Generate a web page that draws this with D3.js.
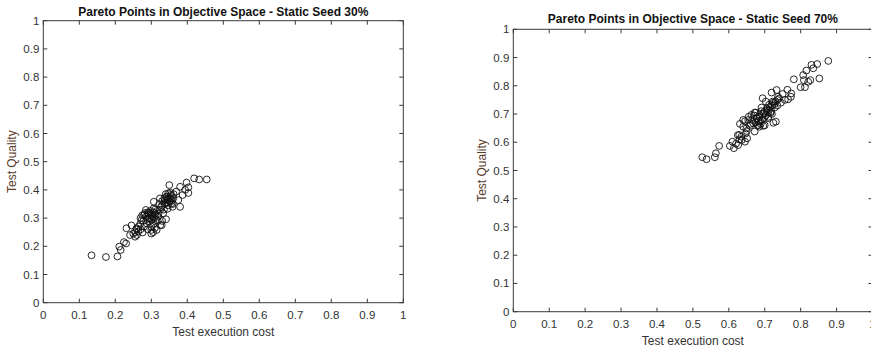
<!DOCTYPE html>
<html>
<head>
<meta charset="utf-8">
<script src="https://cdn.jsdelivr.net/npm/d3@7"></script>
<style>
  html, body { margin: 0; padding: 0; background: #fff; }
  svg { display: block; }
  text { font-family: 'Liberation Sans', Arial, sans-serif; }
</style>
</head>
<body>
<div id="chart"></div>
<script>
// tick values shared by both panels
const tickValues = [0, 0.1, 0.2, 0.3, 0.4, 0.5, 0.6, 0.7, 0.8, 0.9, 1]
const tickLabels = ['0', '0.1', '0.2', '0.3', '0.4', '0.5', '0.6', '0.7', '0.8', '0.9', '1']

const titles = [
    'Pareto Points in Objective Space - Static Seed 30%',
    'Pareto Points in Objective Space - Static Seed 70%',
]
const xLabel = 'Test execution cost'
const yLabel = 'Test Quality'

// [test execution cost, test quality]
const seed30Points = [
    [0.134, 0.168], [0.174, 0.162], [0.206, 0.164], [0.211, 0.199], [0.215, 0.187],
    [0.224, 0.215], [0.230, 0.210], [0.231, 0.264], [0.241, 0.240], [0.245, 0.274],
    [0.250, 0.245], [0.255, 0.234], [0.259, 0.264], [0.264, 0.252], [0.269, 0.279],
    [0.276, 0.249], [0.273, 0.293], [0.280, 0.311], [0.285, 0.329], [0.287, 0.281],
    [0.292, 0.317], [0.296, 0.299], [0.300, 0.258], [0.306, 0.334], [0.307, 0.358],
    [0.310, 0.317], [0.313, 0.293], [0.315, 0.258], [0.319, 0.305], [0.324, 0.370],
    [0.327, 0.340], [0.329, 0.275], [0.333, 0.317], [0.338, 0.364], [0.341, 0.296],
    [0.343, 0.376], [0.345, 0.333], [0.347, 0.388], [0.350, 0.417], [0.352, 0.358],
    [0.354, 0.382], [0.356, 0.352], [0.359, 0.340], [0.361, 0.370], [0.369, 0.394],
    [0.375, 0.364], [0.380, 0.340], [0.380, 0.411], [0.387, 0.382], [0.394, 0.400],
    [0.398, 0.426], [0.403, 0.389], [0.403, 0.409], [0.419, 0.441], [0.433, 0.437],
    [0.454, 0.437],
    [0.285, 0.305], [0.290, 0.320], [0.293, 0.300], [0.297, 0.325], [0.300, 0.310],
    [0.302, 0.295], [0.288, 0.296], [0.298, 0.315], [0.305, 0.320], [0.308, 0.300],
    [0.282, 0.318], [0.295, 0.288], [0.310, 0.330], [0.303, 0.305], [0.291, 0.312],
    [0.312, 0.310], [0.315, 0.325], [0.278, 0.290], [0.300, 0.270], [0.307, 0.280],
    [0.320, 0.315], [0.318, 0.290], [0.325, 0.330], [0.322, 0.350], [0.330, 0.345],
    [0.340, 0.355], [0.345, 0.365], [0.348, 0.372], [0.350, 0.360], [0.352, 0.370],
    [0.343, 0.375], [0.355, 0.365], [0.338, 0.350], [0.347, 0.345], [0.357, 0.378],
    [0.340, 0.385], [0.336, 0.370], [0.353, 0.390], [0.345, 0.355], [0.360, 0.350],
    [0.335, 0.330], [0.330, 0.360], [0.362, 0.385],
    [0.260, 0.260], [0.265, 0.270], [0.255, 0.250], [0.270, 0.260], [0.260, 0.240],
    [0.280, 0.270], [0.290, 0.260], [0.305, 0.250], [0.310, 0.265], [0.300, 0.245],
    [0.325, 0.275], [0.330, 0.290], [0.270, 0.300], [0.275, 0.310],
]

const seed70Points = [
    [0.526, 0.547], [0.538, 0.540], [0.561, 0.547], [0.564, 0.561], [0.573, 0.587],
    [0.603, 0.587], [0.610, 0.602], [0.614, 0.579], [0.626, 0.590], [0.629, 0.626],
    [0.631, 0.665], [0.636, 0.608], [0.640, 0.679], [0.645, 0.602], [0.647, 0.631],
    [0.649, 0.649], [0.651, 0.614], [0.654, 0.679], [0.659, 0.658], [0.663, 0.697],
    [0.668, 0.667], [0.672, 0.638], [0.672, 0.705], [0.677, 0.685], [0.682, 0.661],
    [0.685, 0.697], [0.688, 0.673], [0.691, 0.723], [0.694, 0.756], [0.696, 0.658],
    [0.698, 0.703], [0.703, 0.744], [0.705, 0.714], [0.710, 0.685], [0.712, 0.733],
    [0.716, 0.703], [0.719, 0.776], [0.722, 0.744], [0.724, 0.669], [0.728, 0.723],
    [0.731, 0.673], [0.733, 0.785], [0.735, 0.750], [0.737, 0.761], [0.750, 0.771],
    [0.756, 0.750], [0.763, 0.786], [0.765, 0.752], [0.774, 0.773], [0.773, 0.761],
    [0.781, 0.823], [0.800, 0.795], [0.807, 0.838], [0.809, 0.820], [0.812, 0.795],
    [0.816, 0.854], [0.821, 0.814], [0.827, 0.820], [0.830, 0.874], [0.835, 0.862],
    [0.846, 0.877], [0.852, 0.826], [0.877, 0.888],
    [0.665, 0.680], [0.670, 0.695], [0.675, 0.670], [0.678, 0.685], [0.680, 0.660],
    [0.683, 0.675], [0.686, 0.690], [0.689, 0.665], [0.692, 0.680], [0.695, 0.700],
    [0.698, 0.685], [0.700, 0.710], [0.703, 0.695], [0.706, 0.720], [0.709, 0.705],
    [0.712, 0.715], [0.715, 0.725], [0.718, 0.710], [0.721, 0.730], [0.724, 0.740],
    [0.727, 0.735], [0.730, 0.745], [0.685, 0.655], [0.690, 0.710], [0.675, 0.705],
    [0.660, 0.665], [0.655, 0.690], [0.700, 0.660], [0.710, 0.690], [0.720, 0.700],
    [0.735, 0.730], [0.740, 0.755], [0.745, 0.740], [0.640, 0.655], [0.645, 0.675],
    [0.635, 0.620], [0.650, 0.640], [0.620, 0.595], [0.630, 0.610], [0.625, 0.625],
]

const width = 871
const height = 351
const axisColor = '#3a3a3a'

const svg = d3.select('#chart').append('svg').attr('width', width).attr('height', height)

function drawPanel(opts) {
    const x = d3.scaleLinear().domain([0, 1]).range([opts.left, opts.right])
    const y = d3.scaleLinear().domain([0, 1]).range([opts.bottom, opts.top])
    const g = svg.append('g')
    const tickLen = 4

    // frame
    g.append('rect')
        .attr('x', x(0))
        .attr('y', y(1))
        .attr('width', x(1) - x(0))
        .attr('height', y(0) - y(1))
        .attr('fill', 'none')
        .attr('stroke', axisColor)
        .attr('stroke-width', 1)

    // ticks on all four sides, pointing inward
    tickValues.forEach(function (v) {
        g.append('line').attr('x1', x(v)).attr('x2', x(v)).attr('y1', y(0)).attr('y2', y(0) - tickLen).attr('stroke', axisColor)
        g.append('line').attr('x1', x(v)).attr('x2', x(v)).attr('y1', y(1)).attr('y2', y(1) + tickLen).attr('stroke', axisColor)
        g.append('line').attr('y1', y(v)).attr('y2', y(v)).attr('x1', x(0)).attr('x2', x(0) + tickLen).attr('stroke', axisColor)
        g.append('line').attr('y1', y(v)).attr('y2', y(v)).attr('x1', x(1)).attr('x2', x(1) - tickLen).attr('stroke', axisColor)
    })

    // tick labels
    g.selectAll('.xt')
        .data(tickValues)
        .enter()
        .append('text')
        .attr('x', (d) => x(d))
        .attr('y', y(0) + opts.xTickGap)
        .attr('text-anchor', 'middle')
        .attr('font-size', '11.5px')
        .attr('fill', '#333')
        .text((d, i) => tickLabels[i])
    g.selectAll('.yt')
        .data(tickValues)
        .enter()
        .append('text')
        .attr('x', x(0) - 4)
        .attr('y', (d) => y(d) + 4)
        .attr('text-anchor', 'end')
        .attr('font-size', '11.5px')
        .attr('fill', '#333')
        .text((d, i) => tickLabels[i])

    // axis labels
    g.append('text')
        .attr('x', (x(0) + x(1)) / 2)
        .attr('y', y(0) + opts.xLabelGap)
        .attr('text-anchor', 'middle')
        .attr('font-size', '12px')
        .attr('fill', '#333')
        .text(xLabel)
    g.append('text')
        .attr('transform', 'translate(' + opts.yLabelX + ',' + (y(0) + y(1)) / 2 + ')rotate(-90)')
        .attr('text-anchor', 'middle')
        .attr('font-size', '12px')
        .attr('fill', '#5a3c2a')
        .text(yLabel)

    // title
    g.append('text')
        .attr('x', (x(0) + x(1)) / 2)
        .attr('y', opts.titleY)
        .attr('text-anchor', 'middle')
        .attr('font-size', '12px')
        .attr('font-weight', 'bold')
        .attr('fill', '#111')
        .text(opts.title)

    // points
    g.selectAll('circle')
        .data(opts.points)
        .enter()
        .append('circle')
        .attr('cx', (d) => x(d[0]))
        .attr('cy', (d) => y(d[1]))
        .attr('r', 3.4)
        .attr('fill', 'none')
        .attr('stroke', '#111')
        .attr('stroke-width', 0.9)
}

drawPanel({
    left: 43.3, right: 403.3, top: 20.7, bottom: 302.7,
    xTickGap: 16, xLabelGap: 33, yLabelX: 16, titleY: 16,
    title: titles[0], points: seed30Points,
})
drawPanel({
    left: 513.3, right: 872.5, top: 29.3, bottom: 311.7,
    xTickGap: 16, xLabelGap: 33, yLabelX: 486, titleY: 23,
    title: titles[1], points: seed70Points,
})
</script>
</body>
</html>
